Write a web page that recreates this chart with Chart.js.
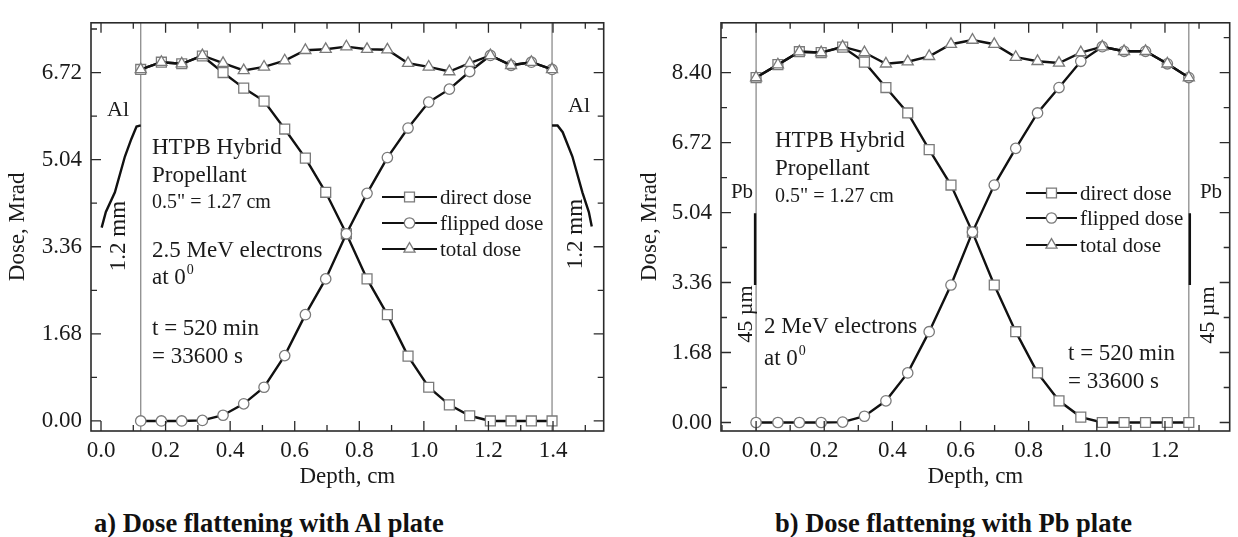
<!DOCTYPE html>
<html>
<head>
<meta charset="utf-8">
<script src="https://cdn.jsdelivr.net/npm/chart.js@4.4.1/dist/chart.umd.min.js"></script>
<style>
    body { margin: 0; background: #fff; width: 1238px; height: 537px; position: relative; overflow: hidden; font-family: 'Liberation Serif', 'DejaVu Serif', serif; }
    .panel { position: absolute; top: 0; }
    .caption { position: absolute; top: 510px; font-size: 26.5px; line-height: 26px; font-weight: bold; color: #111; white-space: nowrap; }
</style>
</head>
<body>
<canvas id="chartA" class="panel" width="612" height="500" style="left:0"></canvas>
<canvas id="chartB" class="panel" width="618" height="500" style="left:620px"></canvas>
<div class="caption" style="left:94px">a) Dose flattening with Al plate</div>
<div class="caption" style="left:775px">b) Dose flattening with Pb plate</div>

<script>
// ---- a) Al plate ----
const alDepth   = [0.123, 0.187, 0.250, 0.314, 0.378, 0.442, 0.505, 0.569, 0.633, 0.696, 0.760, 0.824, 0.887, 0.951, 1.015, 1.079, 1.142, 1.206, 1.270, 1.333, 1.397];
const alDirect  = [6.78, 6.92, 6.89, 7.04, 6.72, 6.42, 6.17, 5.63, 5.07, 4.41, 3.61, 2.74, 2.05, 1.25, 0.65, 0.31, 0.10, 0.00, 0.00, 0.00, 0.00];
const alFlipped = [0.00, 0.00, 0.00, 0.01, 0.11, 0.33, 0.65, 1.26, 2.05, 2.74, 3.61, 4.39, 5.08, 5.65, 6.15, 6.40, 6.74, 7.05, 6.86, 6.92, 6.78];
const alTotal   = [6.78, 6.92, 6.89, 7.05, 6.90, 6.76, 6.83, 6.95, 7.15, 7.17, 7.22, 7.17, 7.16, 6.90, 6.83, 6.74, 6.90, 7.05, 6.86, 6.92, 6.78];
// dose inside the Al plates on both sides
const alPlateLeftDepth  = [0.002, 0.015, 0.043, 0.074, 0.094, 0.110, 0.123];
const alPlateLeftDose   = [3.73, 4.03, 4.41, 5.10, 5.44, 5.68, 5.70];
const alPlateRightDepth = [1.397, 1.414, 1.430, 1.460, 1.491, 1.511, 1.520];
const alPlateRightDose  = [5.70, 5.70, 5.57, 5.10, 4.41, 4.03, 3.75];
const alXTicks = [0.0, 0.2, 0.4, 0.6, 0.8, 1.0, 1.2, 1.4];
const alXMinor = [0.1, 0.3, 0.5, 0.7, 0.9, 1.1, 1.3, 1.5];
const alYTicks = [0.00, 1.68, 3.36, 5.04, 6.72];
const alYMinor = [0.84, 2.52, 4.20, 5.88, 7.56];

// ---- b) Pb plate ----
const pbDepth   = [0.000, 0.064, 0.127, 0.191, 0.254, 0.318, 0.381, 0.445, 0.508, 0.572, 0.635, 0.699, 0.762, 0.826, 0.889, 0.953, 1.016, 1.080, 1.143, 1.207, 1.270];
const pbDirect  = [8.28, 8.59, 8.90, 8.88, 9.01, 8.65, 8.04, 7.43, 6.55, 5.70, 4.57, 3.30, 2.18, 1.19, 0.52, 0.13, 0.00, 0.00, 0.00, 0.00, 0.00];
const pbFlipped = [0.00, 0.00, 0.00, 0.00, 0.01, 0.15, 0.52, 1.19, 2.18, 3.30, 4.57, 5.70, 6.58, 7.43, 8.04, 8.67, 9.02, 8.91, 8.91, 8.61, 8.28];
const pbTotal   = [8.28, 8.59, 8.90, 8.88, 9.02, 8.88, 8.61, 8.66, 8.79, 9.08, 9.18, 9.08, 8.77, 8.67, 8.63, 8.88, 9.02, 8.91, 8.91, 8.61, 8.28];
const pbPlateLeftDepth  = [-0.003, -0.003];
const pbPlateLeftDose   = [5.02, 3.30];
const pbPlateRightDepth = [1.273, 1.273];
const pbPlateRightDose  = [5.02, 3.30];
const pbXTicks = [0.0, 0.2, 0.4, 0.6, 0.8, 1.0, 1.2];
const pbXMinor = [-0.1, 0.1, 0.3, 0.5, 0.7, 0.9, 1.1, 1.3];
const pbYTicks = [0.00, 1.68, 3.36, 5.04, 6.72, 8.40];
const pbYMinor = [0.84, 2.52, 4.20, 5.88, 7.56, 9.24];

const SERIF = "'Liberation Serif', 'DejaVu Serif', serif";
const INK = '#1a1a1a';
const MARK = '#7a7a7a';

function pts(xs, ys) {
    return xs.map((x, i) => ({ x: x, y: ys[i] }));
}

// boxed frame with inward major/minor ticks on all four sides
const frameTicks = {
    id: 'frameTicks',
    afterDatasetsDraw(chart, args, opts) {
        const { ctx, chartArea: a, scales: { x, y } } = chart;
        ctx.save();
        ctx.strokeStyle = '#2a2a2a';
        ctx.lineWidth = 1.3;
        const vTick = (vals, len) => vals.forEach(v => {
            const px = x.getPixelForValue(v);
            if (px < a.left || px > a.right) return;
            ctx.beginPath();
            ctx.moveTo(px, a.bottom); ctx.lineTo(px, a.bottom - len);
            ctx.moveTo(px, a.top); ctx.lineTo(px, a.top + len);
            ctx.stroke();
        });
        const hTick = (vals, len) => vals.forEach(v => {
            const py = y.getPixelForValue(v);
            if (py < a.top || py > a.bottom) return;
            ctx.beginPath();
            ctx.moveTo(a.left, py); ctx.lineTo(a.left + len, py);
            ctx.moveTo(a.right, py); ctx.lineTo(a.right - len, py);
            ctx.stroke();
        });
        vTick(opts.xMajor, 10); vTick(opts.xMinor, 6);
        hTick(opts.yMajor, 10); hTick(opts.yMinor, 6);
        ctx.lineWidth = 1.6;
        ctx.strokeRect(a.left, a.top, a.right - a.left, a.bottom - a.top);
        ctx.restore();
    }
};

// free text, legend and rotated labels
const notes = {
    id: 'notes',
    afterDraw(chart, args, opts) {
        const ctx = chart.ctx;
        ctx.save();
        ctx.fillStyle = INK;
        opts.texts.forEach(t => {
            ctx.font = `${t.size}px ${SERIF}`;
            ctx.save();
            ctx.translate(t.x, t.y);
            if (t.rot) ctx.rotate(t.rot);
            ctx.textAlign = t.align || 'left';
            ctx.textBaseline = t.base || 'alphabetic';
            ctx.fillText(t.text, 0, 0);
            if (t.sup) {
                const w = ctx.measureText(t.text).width;
                ctx.font = `${Math.round(t.size * 0.6)}px ${SERIF}`;
                ctx.fillText(t.sup, w + 1, -t.size * 0.42);
            }
            ctx.restore();
        });
        // legend
        const lg = opts.legend;
        ctx.font = `21px ${SERIF}`;
        ctx.textBaseline = 'middle';
        ctx.textAlign = 'left';
        lg.rows.forEach((row, i) => {
            const yy = lg.y[i];
            ctx.strokeStyle = '#111';
            ctx.lineWidth = 2.2;
            ctx.beginPath(); ctx.moveTo(lg.x1, yy); ctx.lineTo(lg.x2, yy); ctx.stroke();
            ctx.fillStyle = '#fff';
            ctx.strokeStyle = MARK;
            ctx.lineWidth = 1.3;
            Chart.helpers.drawPoint(ctx, { pointStyle: row.style, radius: row.radius, borderWidth: 1.3 }, (lg.x1 + lg.x2) / 2, yy);
            ctx.fillStyle = INK;
            ctx.fillText(row.label, lg.tx, yy + 1);
        });
        ctx.restore();
    }
};

function curve(label, xs, ys, style, radius) {
    return {
        label: label,
        data: pts(xs, ys),
        borderColor: '#111',
        borderWidth: 2.4,
        pointStyle: style,
        pointRadius: radius,
        pointBorderColor: MARK,
        pointBorderWidth: 1.3,
        pointBackgroundColor: '#fff',
        tension: 0
    };
}

function plain(xs, ys, color, width) {
    return { data: pts(xs, ys), borderColor: color, borderWidth: width, pointRadius: 0, tension: 0 };
}

function buildChart(id, cfg) {
    const axisFont = { family: SERIF, size: 23 };
    return new Chart(document.getElementById(id), {
        type: 'line',
        data: {
            datasets: [
                curve('total dose', cfg.depth, cfg.total, 'triangle', 6.4),
                curve('flipped dose', cfg.depth, cfg.flipped, 'circle', 5.2),
                curve('direct dose', cfg.depth, cfg.direct, 'rect', 7.0),
                plain(cfg.plateL[0], cfg.plateL[1], '#111', 2.4),
                plain(cfg.plateR[0], cfg.plateR[1], '#111', 2.4),
                plain([cfg.depth[0], cfg.depth[0]], [cfg.yMin, cfg.yMax], '#8c8c8c', 1.3),
                plain([cfg.depth[cfg.depth.length - 1], cfg.depth[cfg.depth.length - 1]], [cfg.yMin, cfg.yMax], '#8c8c8c', 1.3)
            ]
        },
        options: {
            responsive: false,
            animation: false,
            devicePixelRatio: 1,
            layout: { padding: { top: 13, right: cfg.padRight, left: 0, bottom: 0 } },
            scales: {
                x: {
                    type: 'linear',
                    min: cfg.xMin, max: cfg.xMax,
                    afterBuildTicks: s => { s.ticks = cfg.xTicks.map(v => ({ value: v })); },
                    afterFit: s => { s.height = 69; },
                    grid: { display: false, drawTicks: false },
                    border: { display: false },
                    ticks: { font: axisFont, color: INK, padding: 6, maxRotation: 0, autoSkip: false, callback: v => v.toFixed(1) },
                    title: { display: true, text: 'Depth, cm', font: { family: SERIF, size: 23 }, color: INK, padding: { top: 0, bottom: 9 } }
                },
                y: {
                    min: cfg.yMin, max: cfg.yMax,
                    afterBuildTicks: s => { s.ticks = cfg.yTicks.map(v => ({ value: v })); },
                    afterFit: s => { s.width = cfg.yWidth; },
                    grid: { display: false, drawTicks: false },
                    border: { display: false },
                    ticks: { font: axisFont, color: INK, padding: 9, autoSkip: false, callback: v => v.toFixed(2) },
                    title: { display: true, text: 'Dose, Mrad', font: { family: SERIF, size: 23 }, color: INK, padding: { top: cfg.titlePad, bottom: 0 } }
                }
            },
            plugins: {
                legend: { display: false },
                tooltip: { enabled: false },
                frameTicks: { xMajor: cfg.xTicks, xMinor: cfg.xMinor, yMajor: cfg.yTicks, yMinor: cfg.yMinor },
                notes: { texts: cfg.texts, legend: cfg.legend }
            }
        },
        plugins: [frameTicks, notes]
    });
}

const legendRows = [
    { label: 'direct dose', style: 'rect', radius: 7.0 },
    { label: 'flipped dose', style: 'circle', radius: 5.2 },
    { label: 'total dose', style: 'triangle', radius: 6.4 }
];

buildChart('chartA', {
    depth: alDepth, direct: alDirect, flipped: alFlipped, total: alTotal,
    plateL: [alPlateLeftDepth, alPlateLeftDose], plateR: [alPlateRightDepth, alPlateRightDose],
    xMin: -0.031, xMax: 1.557, yMin: -0.194, yMax: 7.68,
    xTicks: alXTicks, xMinor: alXMinor, yTicks: alYTicks, yMinor: alYMinor,
    yWidth: 91, padRight: 4, titlePad: 4,
    texts: [
        { text: 'Al', x: 118, y: 110, size: 22, align: 'center', base: 'middle' },
        { text: 'Al', x: 579, y: 106, size: 22, align: 'center', base: 'middle' },
        { text: '1.2 mm', x: 119, y: 236, size: 23, align: 'center', base: 'middle', rot: -Math.PI / 2 },
        { text: '1.2 mm', x: 576, y: 234, size: 23, align: 'center', base: 'middle', rot: -Math.PI / 2 },
        { text: 'HTPB Hybrid', x: 152, y: 154, size: 23 },
        { text: 'Propellant', x: 152, y: 182, size: 23 },
        { text: '0.5" = 1.27 cm', x: 152, y: 208, size: 20 },
        { text: '2.5 MeV electrons', x: 152, y: 257, size: 23 },
        { text: 'at 0', x: 152, y: 284, size: 23, sup: '0' },
        { text: 't = 520 min', x: 152, y: 335, size: 23 },
        { text: '= 33600 s', x: 152, y: 363, size: 23 }
    ],
    legend: { rows: legendRows, x1: 382, x2: 437, tx: 440, y: [197, 223, 249] }
});

buildChart('chartB', {
    depth: pbDepth, direct: pbDirect, flipped: pbFlipped, total: pbTotal,
    plateL: [pbPlateLeftDepth, pbPlateLeftDose], plateR: [pbPlateRightDepth, pbPlateRightDose],
    xMin: -0.103, xMax: 1.39, yMin: -0.204, yMax: 9.594,
    xTicks: pbXTicks, xMinor: pbXMinor, yTicks: pbYTicks, yMinor: pbYMinor,
    yWidth: 101, padRight: 1, titlePad: 16,
    texts: [
        { text: 'Pb', x: 122, y: 192, size: 21, align: 'center', base: 'middle' },
        { text: 'Pb', x: 591, y: 192, size: 21, align: 'center', base: 'middle' },
        { text: '45 \u00b5m', x: 126, y: 314, size: 22, align: 'center', base: 'middle', rot: -Math.PI / 2 },
        { text: '45 \u00b5m', x: 588, y: 315, size: 22, align: 'center', base: 'middle', rot: -Math.PI / 2 },
        { text: 'HTPB Hybrid', x: 155, y: 147, size: 23 },
        { text: 'Propellant', x: 155, y: 175, size: 23 },
        { text: '0.5" = 1.27 cm', x: 155, y: 202, size: 20 },
        { text: '2 MeV electrons', x: 144, y: 333, size: 23 },
        { text: 'at 0', x: 144, y: 365, size: 23, sup: '0' },
        { text: 't = 520 min', x: 448, y: 360, size: 23 },
        { text: '= 33600 s', x: 448, y: 388, size: 23 }
    ],
    legend: { rows: legendRows, x1: 406, x2: 457, tx: 460, y: [193, 218, 245] }
});
</script>
</body>
</html>
